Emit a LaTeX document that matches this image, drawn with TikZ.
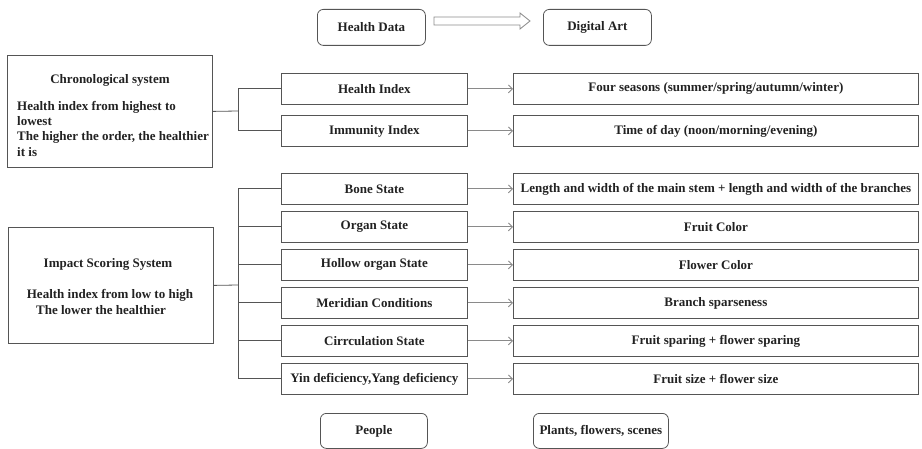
\documentclass[tikz,border=0pt]{standalone}
\usepackage{fontspec}
\setmainfont{Liberation Serif}
\usetikzlibrary{arrows.meta}
\definecolor{txt}{HTML}{222222}
\definecolor{edgec}{HTML}{555555}
\definecolor{arrc}{HTML}{8A8A8A}
\begin{document}
\begin{tikzpicture}[x=1pt,y=-1pt,
  font=\fontsize{13}{15.3}\selectfont\bfseries, text=txt,
  bx/.style={draw=edgec, line width=0.8pt, inner sep=0pt, anchor=north west},
  rbx/.style={bx, rounded corners=6pt},
  midbox/.style={bx, minimum width=186, minimum height=31},
  rightbox/.style={bx, minimum width=405, minimum height=31},
  link/.style={draw=edgec, line width=0.8pt},
  arrowln/.style={draw=arrc, line width=0.9pt, -{Straight Barb[length=4pt,width=8pt]}},
  plain/.style={inner sep=0pt}]
\useasboundingbox (0,0) rectangle (922,449);

% top
\node[rbx, minimum width=108, minimum height=36] (hd) at (317,9) {Health Data};
\node[rbx, minimum width=108, minimum height=36] (da) at (543,9) {Digital Art};
\draw[draw=arrc, line width=0.8pt] (434,17) -- (520,17) -- (520,13) -- (530,21) -- (520,29) -- (520,25) -- (434,25) -- cycle;

% left boxes
\node[bx, minimum width=205, minimum height=112] (chron) at (7,55) {};
\node[plain] (chront) at (110,80) {Chronological system};
\node[plain, anchor=north west, align=left] (chronl) at (17,101)
  {Health index from highest to\\lowest\\The higher the order, the healthier\\it is};

\node[bx, minimum width=205, minimum height=116] (imp) at (8,227) {};
\node[plain] (impt) at (108,264) {Impact Scoring System};
\node[plain] (impl1) at (110,295) {Health index from low to high};
\node[plain] (impl2) at (101,310) {The lower the healthier};

% middle boxes
\node[midbox] (hi) at (281,73) {Health Index};
\node[midbox] (ii) at (281,115) {Immunity Index};
\node[midbox] (bs) at (281,173) {Bone State};
\node[midbox] (os) at (281,211) {Organ State};
\node[midbox] (ho) at (281,249) {Hollow organ State};
\node[midbox] (mc) at (281,287) {Meridian Conditions};
\node[midbox] (cs) at (281,325) {Cirrculation State};
\node[midbox] (yy) at (281,363) {Yin deficiency,Yang deficiency};

% right boxes
\node[rightbox] (fs) at (513,73) {Four seasons (summer/spring/autumn/winter)};
\node[rightbox] (td) at (513,115) {Time of day (noon/morning/evening)};
\node[rightbox] (lw) at (513,173) {Length and width of the main stem + length and width of the branches};
\node[rightbox] (fc) at (513,211) {Fruit Color};
\node[rightbox] (flc) at (513,249) {Flower Color};
\node[rightbox] (bsp) at (513,287) {Branch sparseness};
\node[rightbox] (fsp) at (513,325) {Fruit sparing + flower sparing};
\node[rightbox] (fsz) at (513,363) {Fruit size + flower size};

% bottom
\node[rbx, minimum width=107, minimum height=35] (pp) at (320,413) {People};
\node[rbx, minimum width=135, minimum height=35] (pl) at (533,413) {Plants, flowers, scenes};

% brackets
\coordinate (j1) at (238,111);
\draw[link] (chron.east) -- (j1);
\draw[link] (j1) |- (hi.west);
\draw[link] (j1) |- (ii.west);

\coordinate (j2) at (238,285);
\draw[link] (imp.east) -- (j2);
\foreach \n in {bs,os,ho,mc,cs,yy} \draw[link] (j2) |- (\n.west);

% arrows
\draw[arrowln] (hi.east) -- (fs.west);
\draw[arrowln] (ii.east) -- (td.west);
\draw[arrowln] (bs.east) -- (lw.west);
\draw[arrowln] (os.east) -- (fc.west);
\draw[arrowln] (ho.east) -- (flc.west);
\draw[arrowln] (mc.east) -- (bsp.west);
\draw[arrowln] (cs.east) -- (fsp.west);
\draw[arrowln] (yy.east) -- (fsz.west);
\end{tikzpicture}
\end{document}
